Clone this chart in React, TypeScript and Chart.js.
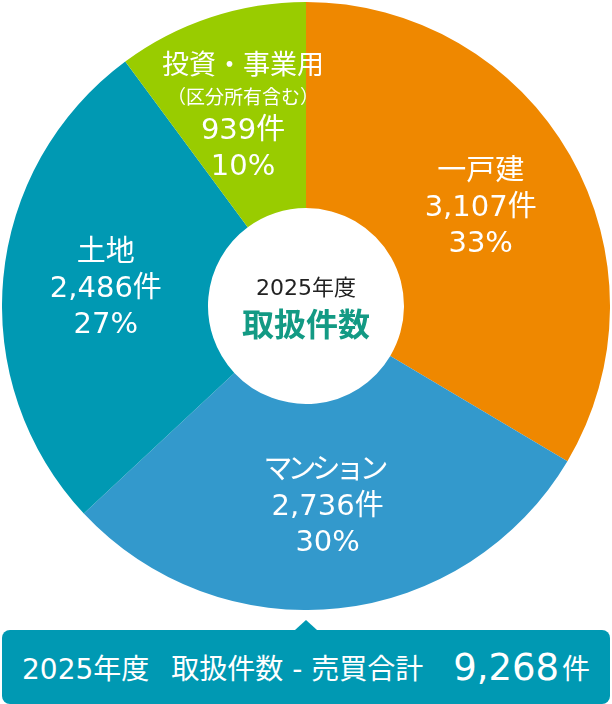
import { Chart, registerables } from "chart.js";
import { useRef, useEffect } from "react";

Chart.register(...registerables);

const categories = ["一戸建", "マンション", "土地", "投資・事業用"];
const notes = ["", "", "", "（区分所有含む）"];
const counts = [3107, 2736, 2486, 939];
const percents = [33, 30, 27, 10];
const colors = ["#EF8800", "#3399CC", "#0099B3", "#99CC00"];

const centerYear = "2025年度";
const centerTitle = "取扱件数";
const totalTitle = "取扱件数 - 売買合計";
const totalUnit = "件";

const FONT = '"DejaVu Sans", "Noto Sans CJK JP", sans-serif';

const totalCount = counts.reduce((a, b) => a + b, 0);
const fmt = (n: number) => n.toLocaleString("en-US");

const segmentLabels = {
  id: "segmentLabels",
  afterDatasetsDraw(chart: any) {
    const ctx: CanvasRenderingContext2D = chart.ctx;
    const meta = chart.getDatasetMeta(0);
    ctx.save();
    ctx.fillStyle = "#ffffff";
    ctx.textAlign = "center";
    ctx.textBaseline = "middle";
    meta.data.forEach((arc: any, i: number) => {
      const { x, y } = arc.tooltipPosition(false);
      const lines: { text: string; size: number; tight?: boolean }[] = [];
      lines.push({ text: categories[i], size: notes[i] ? 27 : 29, tight: i === 1 });
      if (notes[i]) lines.push({ text: notes[i], size: 19 });
      lines.push({ text: fmt(counts[i]) + "件", size: 29 });
      lines.push({ text: percents[i] + "%", size: 29 });

      const centers: number[] = [0];
      for (let k = 1; k < lines.length; k++) {
        const gap = lines[k - 1].size === lines[k].size ? 7 : 9;
        centers.push(centers[k - 1] + (lines[k - 1].size + lines[k].size) / 2 + gap);
      }
      const shift = y + 2 - centers[centers.length - 1] / 2;
      lines.forEach((ln, k) => {
        ctx.font = `${ln.size}px ${FONT}`;
        (ctx as any).letterSpacing = ln.tight ? "-5px" : "0px";
        ctx.fillText(ln.text, ln.tight ? x - 4 : x, shift + centers[k]);
      });
    });
    (ctx as any).letterSpacing = "0px";

    // centre of the hole
    const cx = (chart.chartArea.left + chart.chartArea.right) / 2;
    const cy = (chart.chartArea.top + chart.chartArea.bottom) / 2;
    ctx.fillStyle = "#222222";
    ctx.font = `22px ${FONT}`;
    ctx.fillText(centerYear, cx, cy - 17);
    ctx.fillStyle = "#139a84";
    ctx.font = `bold 32px "Noto Sans CJK JP", sans-serif`;
    ctx.fillText(centerTitle, cx, cy + 18);
    ctx.restore();
  },
};

export default function App() {
  const chartRef = useRef<HTMLCanvasElement>(null);

  useEffect(() => {
    document.body.style.margin = "0";
    let chartInstance: Chart | null = null;
    if (chartRef.current) {
      chartInstance = new Chart(chartRef.current, {
        type: "doughnut",
        data: {
          labels: categories,
          datasets: [
            {
              data: counts,
              backgroundColor: colors,
              borderWidth: 0,
              offset: 0,
              hoverOffset: 0,
            },
          ],
        },
        options: {
          responsive: false,
          animation: false,
          cutout: 98,
          rotation: 0,
          layout: { padding: 0 },
          plugins: {
            legend: { display: false },
            tooltip: { enabled: false },
          },
        },
        plugins: [segmentLabels],
      } as any);
    }
    return () => {
      if (chartInstance) chartInstance.destroy();
    };
  }, []);

  return (
    <div style={{ position: "relative", width: 612, height: 704, fontFamily: FONT }}>
      <canvas
        ref={chartRef}
        width={608}
        height={608}
        style={{ position: "absolute", left: 2, top: 2 }}
      />
      <div
        style={{
          position: "absolute",
          left: 2,
          top: 630,
          width: 608,
          height: 74,
          background: "#0099B3",
          borderRadius: 8,
          color: "#ffffff",
          display: "flex",
          alignItems: "center",
          whiteSpace: "nowrap",
        }}
      >
        <div
          style={{
            position: "absolute",
            left: 293,
            top: -10,
            width: 0,
            height: 0,
            borderLeft: "11px solid transparent",
            borderRight: "11px solid transparent",
            borderBottom: "10px solid #0099B3",
          }}
        />
        <span style={{ fontSize: 28, marginLeft: 20 }}>{centerYear}</span>
        <span style={{ fontSize: 28, marginLeft: 22 }}>{totalTitle}</span>
        <span style={{ fontSize: 37, marginLeft: 30 }}>{fmt(totalCount)}</span>
        <span style={{ fontSize: 28, marginLeft: 3 }}>{totalUnit}</span>
      </div>
    </div>
  );
}
